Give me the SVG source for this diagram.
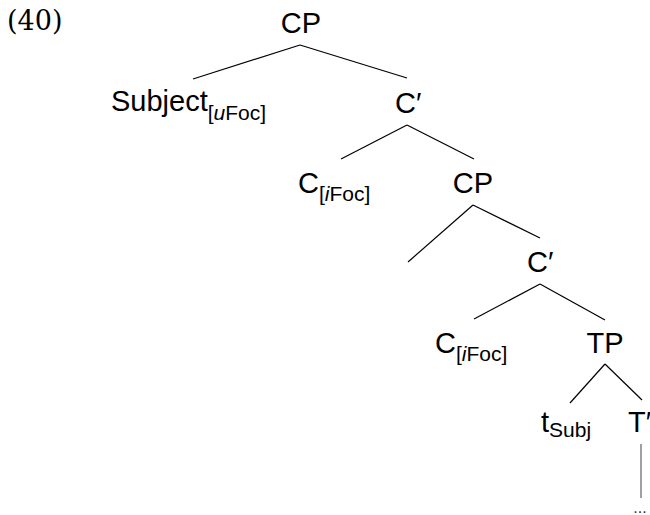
<svg xmlns="http://www.w3.org/2000/svg" width="650" height="515" viewBox="0 0 650 515">
<style>
.n{font-family:"Liberation Sans",Arial,sans-serif;font-size:29px;fill:#000}
.s{font-size:21px}
.it{font-style:italic}
.e{stroke:#000;stroke-width:1.2;fill:none}
</style>
<rect width="650" height="515" fill="#fff"/>
<text x="7" y="30" style="font-family:'DejaVu Serif',serif;font-size:27px">(40)</text>
<g id="edges">
<line class="e" x1="300" y1="45" x2="193" y2="79"/>
<line class="e" x1="300" y1="45" x2="407" y2="78"/>
<line class="e" x1="407" y1="125" x2="341" y2="159"/>
<line class="e" x1="407" y1="125" x2="474" y2="159"/>
<line class="e" x1="473" y1="205" x2="408" y2="262"/>
<line class="e" x1="473" y1="205" x2="540" y2="238"/>
<line class="e" x1="540" y1="284" x2="474" y2="319"/>
<line class="e" x1="540" y1="284" x2="605" y2="320"/>
<line class="e" x1="605" y1="364" x2="570" y2="403"/>
<line class="e" x1="605" y1="364" x2="642" y2="400"/>
<line x1="641" y1="444" x2="641" y2="498" stroke="#777" stroke-width="1.4"/>
</g>
<g id="cp1"><text class="n" x="301" y="33" text-anchor="middle">CP</text></g>
<g id="subject"><text class="n" x="111" y="111">Subject<tspan class="s" dy="9">[<tspan class="it">u</tspan>Foc]</tspan></text></g>
<g id="cbar1"><text class="n" x="395" y="113">C′</text></g>
<g id="c1"><text class="n" x="298" y="193">C<tspan class="s" dy="8">[<tspan class="it">i</tspan>Foc]</tspan></text></g>
<g id="cp2"><text class="n" x="473" y="193" text-anchor="middle">CP</text></g>
<g id="cbar2"><text class="n" x="527" y="272">C′</text></g>
<g id="c2"><text class="n" x="435" y="353">C<tspan class="s" dy="8">[<tspan class="it">i</tspan>Foc]</tspan></text></g>
<g id="tp"><text class="n" x="605" y="353" text-anchor="middle">TP</text></g>
<g id="tsubj"><text class="n" x="541" y="432">t<tspan class="s" dy="5">Subj</tspan></text></g>
<g id="tbar"><text class="n" x="628" y="432">T′</text></g>
<g id="dots"><text x="640" y="513" text-anchor="middle" style="font-family:'Liberation Sans',sans-serif;font-size:16px;fill:#333">...</text></g>
</svg>
